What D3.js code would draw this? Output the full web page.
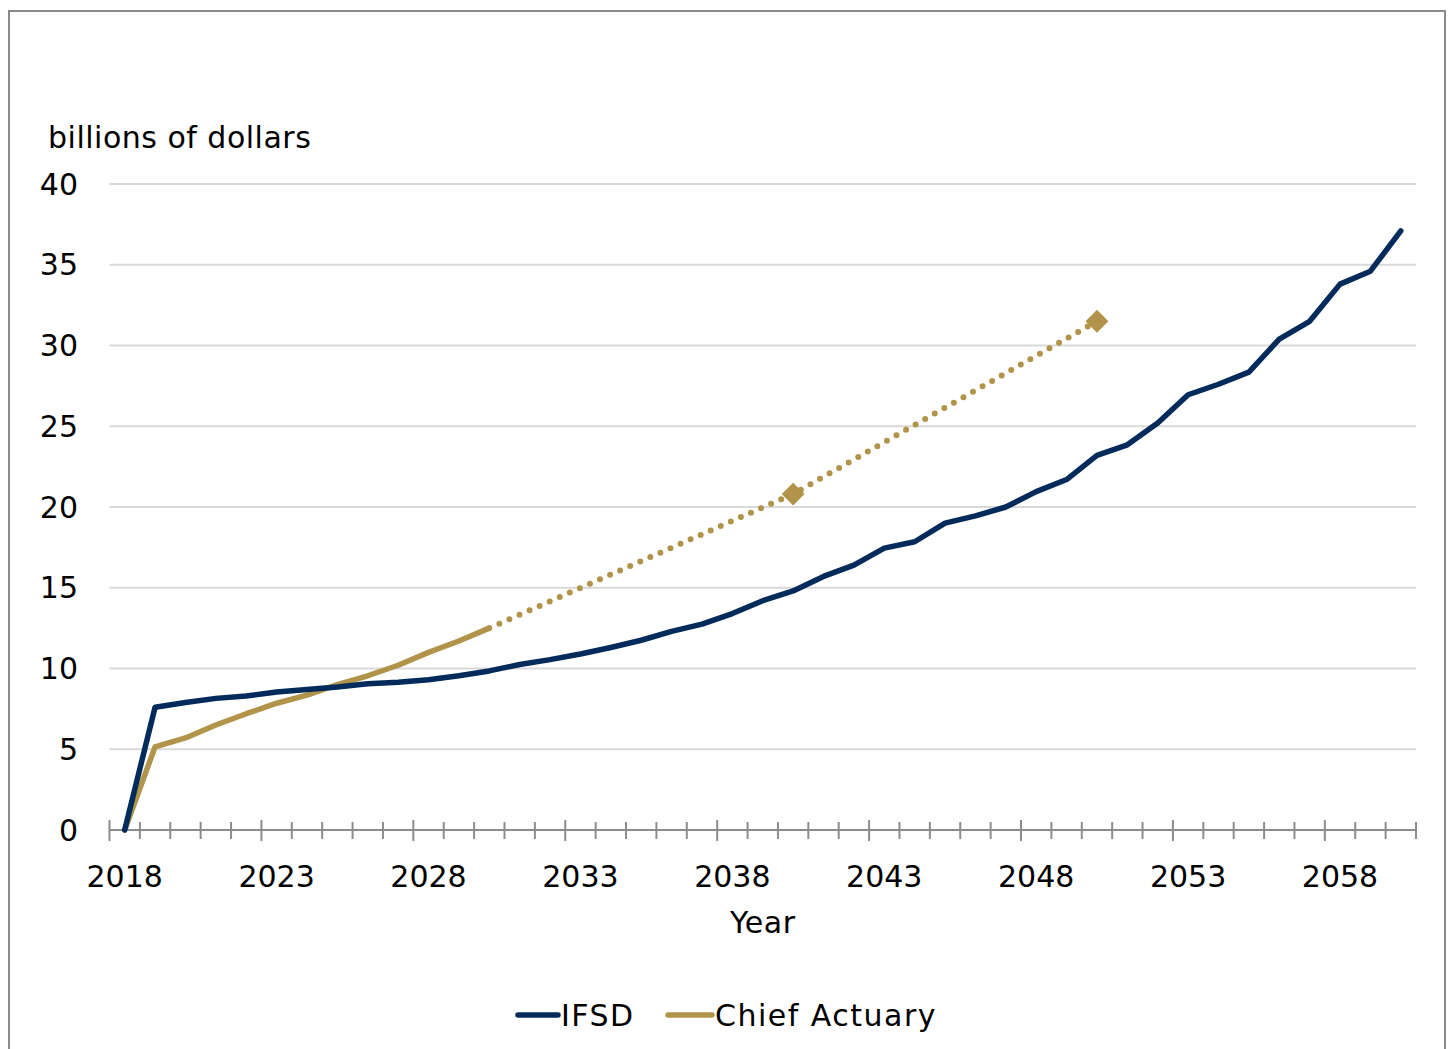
<!DOCTYPE html>
<html>
<head>
<meta charset="utf-8">
<script src="https://cdn.jsdelivr.net/npm/d3@7"></script>
<style>
  html, body { margin: 0; padding: 0; background: #fff; }
  svg { display: block; }
  text { font-family: "DejaVu Sans", "Open Sans", sans-serif; fill: #000; }
</style>
</head>
<body>
<svg id="chart" width="1450" height="1049"></svg>
<script>
// Years on the category axis
const years = d3.range(2018, 2061);

// IFSD projection, billions of dollars
const ifsdValues = [
  0, 7.6, 7.9, 8.15, 8.3, 8.55, 8.7, 8.85, 9.05, 9.15, 9.3,
  9.55, 9.85, 10.25, 10.55, 10.9, 11.3, 11.75, 12.3, 12.75, 13.4,
  14.2, 14.8, 15.7, 16.4, 17.45, 17.85, 19.0, 19.45, 20.0, 20.95,
  21.7, 23.2, 23.85, 25.2, 26.95, 27.6, 28.35, 30.4, 31.5, 33.8,
  34.6, 37.1
];

// Chief Actuary annual projection (2018-2030)
const actuaryYears = d3.range(2018, 2031);
const actuaryValues = [0, 5.15, 5.7, 6.5, 7.2, 7.85, 8.35, 9.0, 9.55, 10.2, 11.0, 11.7, 12.5];

// Chief Actuary milestone projections (dotted extension)
const milestoneYears = [2030, 2040, 2050];
const milestoneValues = [12.5, 20.8, 31.5];

const yTicks = [0, 5, 10, 15, 20, 25, 30, 35, 40];
const xLabelYears = [2018, 2023, 2028, 2033, 2038, 2043, 2048, 2053, 2058];

const navy = "#022b5c";
const gold = "#b1934a";

const svg = d3.select("#chart");

// outer frame
svg.append("rect")
  .attr("x", 9).attr("y", 11)
  .attr("width", 1436).attr("height", 1060)
  .attr("fill", "none").attr("stroke", "#8a8a8a").attr("stroke-width", 2);

const plotLeft = 109.5, plotRight = 1416, plotTop = 184, plotBottom = 830;

const x = d3.scaleBand().domain(years).range([plotLeft, plotRight]).padding(0);
const xc = yr => x(yr) + x.bandwidth() / 2;
const y = d3.scaleLinear().domain([0, 40]).range([plotBottom, plotTop]);

// gridlines
svg.append("g").selectAll("line")
  .data(yTicks.filter(t => t > 0))
  .join("line")
  .attr("x1", plotLeft).attr("x2", plotRight)
  .attr("y1", d => y(d)).attr("y2", d => y(d))
  .attr("stroke", "#d9d9d9").attr("stroke-width", 2);

// y tick labels
svg.append("g").selectAll("text")
  .data(yTicks)
  .join("text")
  .attr("x", 78).attr("y", d => y(d))
  .attr("dy", "0.35em")
  .attr("text-anchor", "end")
  .attr("font-size", 30)
  .text(d => d);

// axis title above the value labels
svg.append("text")
  .attr("x", 48).attr("y", 148)
  .attr("font-size", 30)
  .attr("letter-spacing", 0.5)
  .text("billions of dollars");

// x axis line
svg.append("line")
  .attr("x1", plotLeft).attr("x2", plotRight)
  .attr("y1", plotBottom).attr("y2", plotBottom)
  .attr("stroke", "#8c8c8c").attr("stroke-width", 2);

// tick marks on category boundaries
const boundaries = years.map((yr, i) => ({ pos: x(yr), major: i % 5 === 0 }))
  .concat([{ pos: plotRight, major: false }]);
svg.append("g").selectAll("line")
  .data(boundaries)
  .join("line")
  .attr("x1", d => d.pos).attr("x2", d => d.pos)
  .attr("y1", d => plotBottom - (d.major ? 10 : 8))
  .attr("y2", d => plotBottom + (d.major ? 11 : 9))
  .attr("stroke", "#8c8c8c").attr("stroke-width", 2);

// x tick labels
svg.append("g").selectAll("text")
  .data(xLabelYears)
  .join("text")
  .attr("x", d => xc(d)).attr("y", 887)
  .attr("text-anchor", "middle")
  .attr("font-size", 30)
  .text(d => d);

svg.append("text")
  .attr("x", (plotLeft + plotRight) / 2).attr("y", 933)
  .attr("text-anchor", "middle")
  .attr("font-size", 30)
  .attr("letter-spacing", 0.5)
  .text("Year");

const line = d3.line().x(d => xc(d[0])).y(d => y(d[1]));

// Chief Actuary dotted extension
svg.append("path")
  .datum(d3.zip(milestoneYears, milestoneValues))
  .attr("d", line)
  .attr("fill", "none").attr("stroke", gold)
  .attr("stroke-width", 6)
  .attr("stroke-linecap", "round")
  .attr("stroke-dasharray", "0 11");

// milestone markers
svg.append("g").selectAll("path")
  .data(d3.zip(milestoneYears, milestoneValues).slice(1))
  .join("path")
  .attr("d", d3.symbol(d3.symbolSquare, 260))
  .attr("transform", d => `translate(${xc(d[0])},${y(d[1])}) rotate(45)`)
  .attr("fill", gold);

// Chief Actuary solid line
svg.append("path")
  .datum(d3.zip(actuaryYears, actuaryValues))
  .attr("d", line)
  .attr("fill", "none").attr("stroke", gold)
  .attr("stroke-width", 5.5).attr("stroke-linejoin", "round").attr("stroke-linecap", "round");

// IFSD line
svg.append("path")
  .datum(d3.zip(years, ifsdValues))
  .attr("d", line)
  .attr("fill", "none").attr("stroke", navy)
  .attr("stroke-width", 5.5).attr("stroke-linejoin", "round").attr("stroke-linecap", "round");

// legend
const legend = [
  { name: "IFSD", color: navy, x1: 518, x2: 558 },
  { name: "Chief Actuary", color: gold, x1: 668, x2: 712 }
];
const lg = svg.append("g").selectAll("g").data(legend).join("g");
lg.append("line")
  .attr("x1", d => d.x1).attr("x2", d => d.x2)
  .attr("y1", 1015).attr("y2", 1015)
  .attr("stroke", d => d.color).attr("stroke-width", 5.5).attr("stroke-linecap", "round");
lg.append("text")
  .attr("x", d => d.x2 + 3).attr("y", 1015)
  .attr("dy", "0.35em")
  .attr("font-size", 30)
  .attr("letter-spacing", 1.5)
  .text(d => d.name);
</script>
</body>
</html>
